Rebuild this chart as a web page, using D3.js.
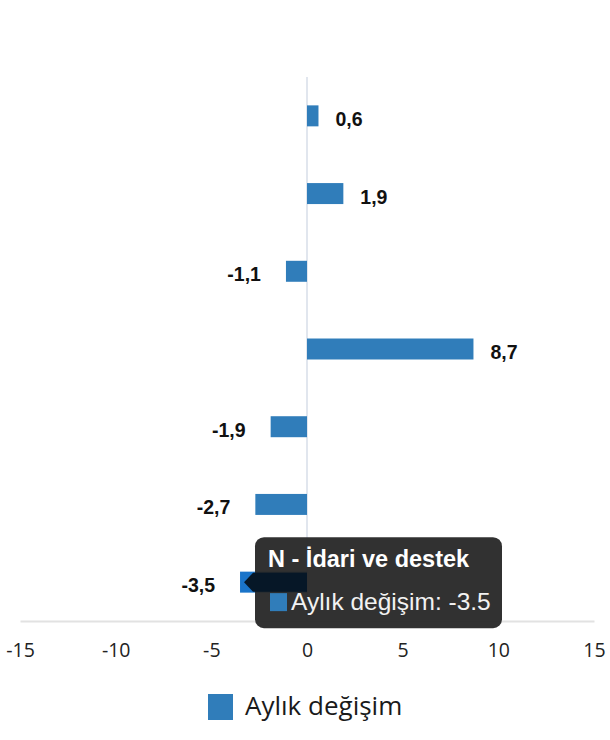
<!DOCTYPE html>
<html>
<head>
<meta charset="utf-8">
<script src="https://cdn.jsdelivr.net/npm/d3@7"></script>
<style>
  html, body { margin: 0; padding: 0; background: #fff; }
</style>
</head>
<body>
<div id="chart"></div>
<script>
// Category names (y axis labels are hidden in the original chart)
const categories = ["A", "B", "C", "D", "E", "F", "N - İdari ve destek"];
const seriesName = "Aylık değişim";
const values = [0.6, 1.9, -1.1, 8.7, -1.9, -2.7, -3.5];
const xTicks = [-15, -10, -5, 0, 5, 10, 15];

// index of the hovered bar that shows the tooltip
const hoverIndex = 6;

const width = 610, height = 740;
const margin = { top: 77, right: 16, bottom: 119, left: 20 };
const barColor = "#307dba";

const svg = d3.select("#chart").append("svg")
  .attr("width", width)
  .attr("height", height)
  .style("font-family", "Lato, 'Open Sans', sans-serif");

const x = d3.scaleLinear()
  .domain([-15, 15])
  .range([margin.left, width - margin.right]);

const y = d3.scaleBand()
  .domain(categories)
  .range([margin.top, height - margin.bottom])
  .paddingInner(0.73)
  .paddingOuter(0.365);

// zero line
svg.append("line")
  .attr("x1", x(0)).attr("x2", x(0))
  .attr("y1", margin.top).attr("y2", height - margin.bottom)
  .attr("stroke", "#e1e6ee")
  .attr("stroke-width", 2);

// x axis
const axisG = svg.append("g")
  .attr("transform", `translate(0,${height - margin.bottom})`)
  .call(d3.axisBottom(x).tickValues(xTicks).tickSize(0).tickPadding(22)
    .tickFormat(d => String(d)));
axisG.select(".domain").attr("stroke", "#e2e2e2").attr("stroke-width", 2);
axisG.selectAll("text")
  .style("font-size", "19.5px")
  .style("font-family", "'Open Sans', sans-serif")
  .attr("fill", "#222");

// bars
svg.append("g").selectAll("rect")
  .data(values)
  .join("rect")
  .attr("x", d => x(Math.min(0, d)))
  .attr("y", (d, i) => y(categories[i]))
  .attr("width", d => Math.abs(x(d) - x(0)))
  .attr("height", y.bandwidth())
  .attr("fill", (d, i) => i === hoverIndex ? "#1a74c9" : barColor);

// value labels
const fmt = v => v.toFixed(1).replace(".", ",");
svg.append("g").selectAll("text")
  .data(values)
  .join("text")
  .attr("x", d => d >= 0 ? x(d) + 17 : x(d) - 25)
  .attr("y", (d, i) => y(categories[i]) + y.bandwidth() / 2 + 10)
  .attr("text-anchor", d => d >= 0 ? "start" : "end")
  .style("font-family", "'Liberation Sans', Arial, sans-serif")
  .style("font-weight", "bold")
  .style("font-size", "19.5px")
  .attr("fill", "#111")
  .text(fmt);

// tooltip for hovered bar
const hv = values[hoverIndex];
const hy = y(categories[hoverIndex]) + y.bandwidth() / 2;
const tip = svg.append("g");
tip.append("rect")
  .attr("x", 255).attr("y", hy - 45)
  .attr("width", 247).attr("height", 91)
  .attr("rx", 9)
  .attr("fill", "#262626")
  .attr("fill-opacity", 0.95);
tip.append("path")
  .attr("d", `M${x(hv) + 4},${hy} L${x(hv) + 13},${hy - 9.5} L${x(0)},${hy - 9.5} L${x(0)},${hy + 9.5} L${x(hv) + 13},${hy + 9.5} Z`)
  .attr("fill", "#061727");
tip.append("text")
  .attr("x", 268).attr("y", hy - 15)
  .style("font-family", "'Liberation Sans', Arial, sans-serif")
  .style("font-weight", "bold")
  .style("font-size", "23.5px")
  .attr("fill", "#fff")
  .text(categories[hoverIndex]);
tip.append("rect")
  .attr("x", 270).attr("y", hy + 11)
  .attr("width", 17).attr("height", 18)
  .attr("fill", barColor);
tip.append("text")
  .attr("x", 291).attr("y", hy + 28)
  .style("font-family", "'Liberation Sans', Arial, sans-serif")
  .style("font-size", "24.5px")
  .attr("fill", "#f2f2f2")
  .text(`${seriesName}: ${hv}`);

// legend
const legend = svg.append("g").attr("transform", "translate(208,694)");
legend.append("rect")
  .attr("width", 25).attr("height", 26)
  .attr("fill", barColor);
legend.append("text")
  .attr("x", 37).attr("y", 21)
  .style("font-size", "26px")
  .style("font-family", "'Open Sans', sans-serif")
  .attr("fill", "#1a1a1a")
  .text(seriesName);
</script>
</body>
</html>
